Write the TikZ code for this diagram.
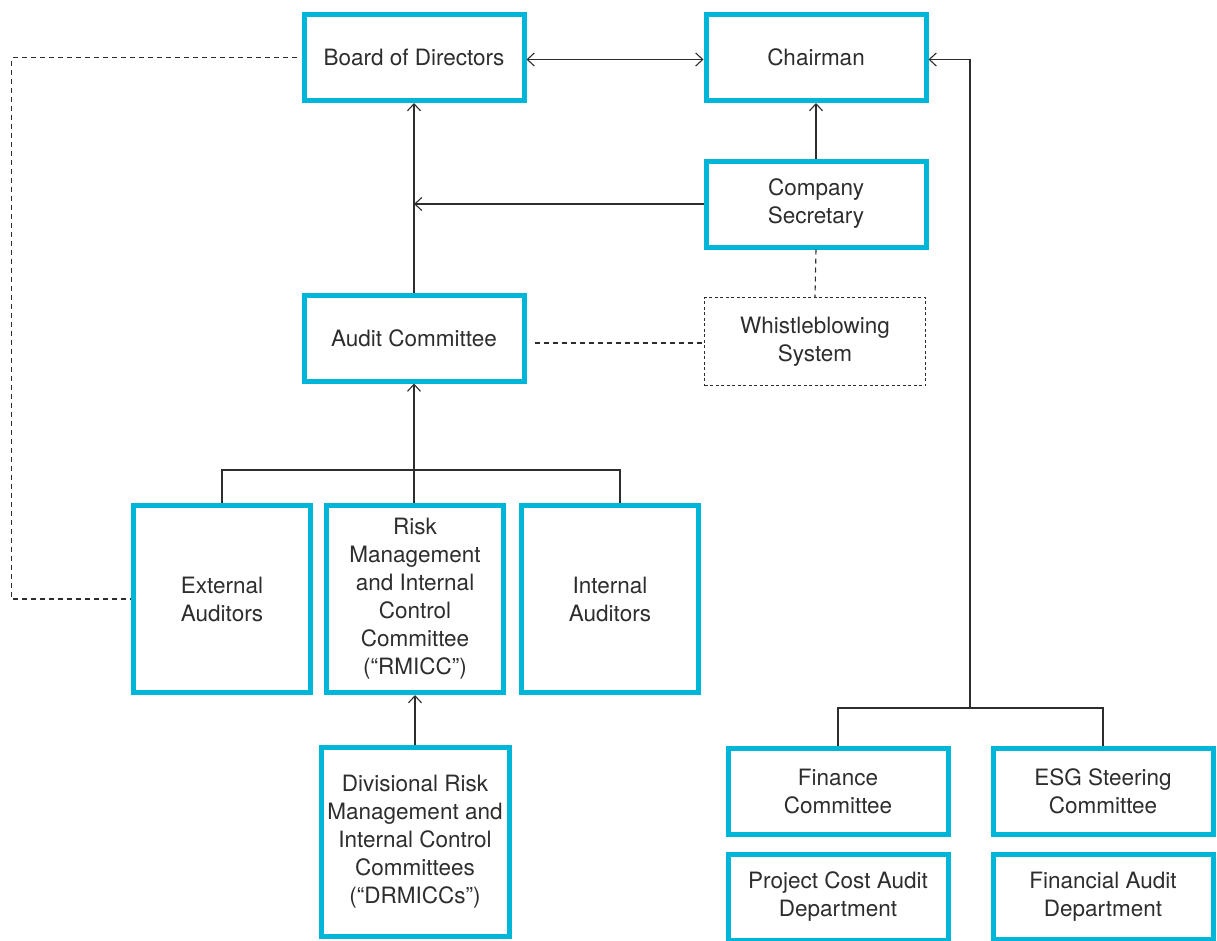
\documentclass[tikz,border=0pt]{standalone}
\usepackage{fontspec}
\setmainfont{TeX Gyre Heros}
\usetikzlibrary{arrows.meta}
\definecolor{boxcyan}{RGB}{0,182,216}
\definecolor{inkgray}{RGB}{45,45,45}

\begin{document}
\begin{tikzpicture}[x=1pt,y=-1pt,>={Straight Barb[length=7pt,width=13pt]},
  line width=1.1pt,draw=inkgray,
  box/.style={draw=boxcyan,line width=5pt,align=center,inner sep=2pt,
    text=inkgray,font=\fontsize{22.5}{28}\selectfont,
    minimum width=220pt,minimum height=86pt},
  tall/.style={box,minimum width=177pt,minimum height=187pt},
  dashbox/.style={draw=inkgray,line width=1.1pt,dash pattern=on 3pt off 2.5pt,
    align=center,text=inkgray,font=\fontsize{22.5}{28}\selectfont,
    minimum width=221pt,minimum height=88pt},
  dashline/.style={draw=inkgray,line width=1.1pt,dash pattern=on 5pt off 4pt}]
\useasboundingbox (0,0) rectangle (1217,940);
\node[box] (bod) at (414,57.5) {Board of Directors};
\node[box] (chair) at (816,57.5) {Chairman};
\node[box] (sec) at (816,204) {Company\\Secretary};
\node[box] (audit) at (414,338) {Audit Committee};
\node[dashbox] (whistle) at (815,341.5) {Whistleblowing\\System};
\node[tall] (ext) at (222,599) {External\\Auditors};
\node[tall] (rmicc) at (415,599) {Risk\\Management\\and Internal\\Control\\Committee\\(“RMICC”)};
\node[tall] (intaud) at (610,599) {Internal\\Auditors};
\node[box,minimum width=188pt,minimum height=189pt] (drmicc) at (415,842)
  {Divisional Risk\\Management and\\Internal Control\\Committees\\(“DRMICCs”)};
\node[box] (fin) at (838,791) {Finance\\Committee};
\node[box] (esg) at (1103,791) {ESG Steering\\Committee};
\node[box] (pcad) at (838,897) {Project Cost Audit\\Department};
\node[box,minimum height=85pt] (fad) at (1103,897) {Financial Audit\\Department};
\coordinate (jt) at (414,470);
\coordinate (jc) at (970,708);
% reporting lines
\draw[<->] ([yshift=-2pt]bod.east) -- ([yshift=-2pt]chair.west);
\draw[->] (sec.north) -- (chair.south);
\draw[->] (sec.west) -- (sec.west -| bod.south);
\draw[->] (audit.north) -- (bod.south);
\draw[->] (jt) -- (jt |- audit.south);
\draw (ext.north) |- (jt) -| ([xshift=10pt]intaud.north);
\draw (jt) -- (jt |- rmicc.north);
\draw[->] (drmicc.north) -- (rmicc.south);
\draw[->] (jc) |- ([yshift=-2pt]chair.east);
\draw (fin.north) |- (jc) -| (esg.north);
% dashed links
\draw[dashline] (sec.south) -- (whistle.north);
\draw[dashline,shorten <=8pt] ([yshift=-5pt]audit.east) -- ([yshift=-5pt]audit.east -| whistle.west);
\draw[dashline,shorten <=5pt] (bod.west) -- ++(-290,0) |- (ext.west);
\end{tikzpicture}
\end{document}
